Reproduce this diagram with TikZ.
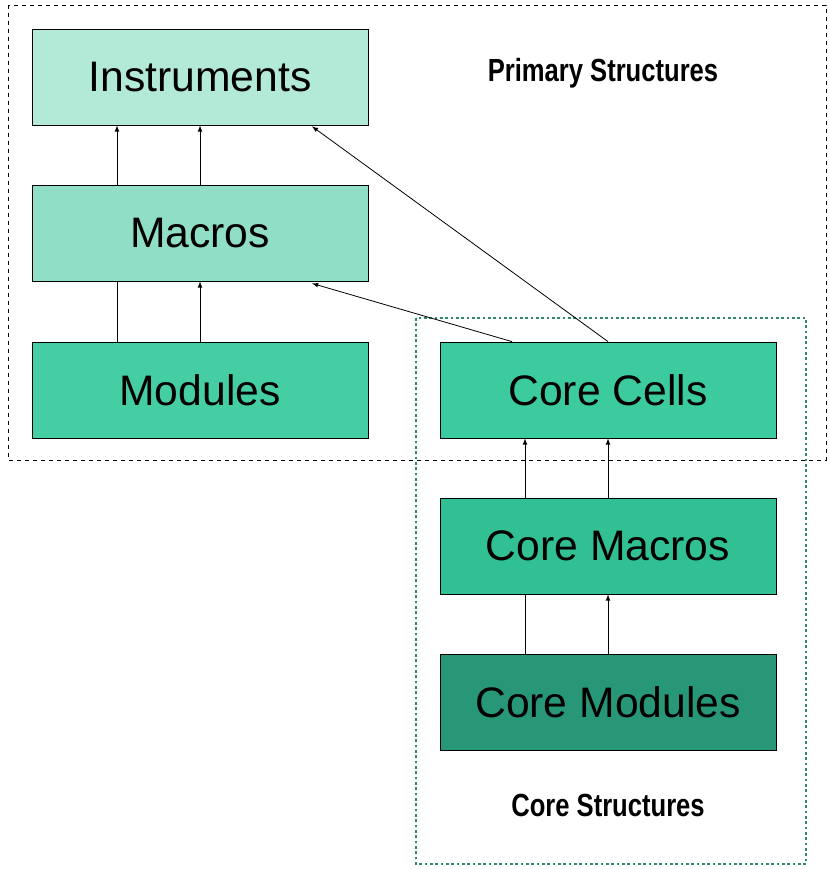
\documentclass[tikz,border=0pt]{standalone}
\usepackage{fontspec}
\setmainfont{Liberation Sans}
\begin{document}
\begin{tikzpicture}[x=0.75pt,y=-0.75pt,
 box/.style={draw=black,line width=0.6pt,minimum width=336*0.75pt,minimum height=96*0.75pt,inner sep=0pt,font=\fontsize{32}{36}\selectfont},
 arr/.style={-latex,line width=0.6pt},
 ln/.style={line width=0.6pt},
 lab/.style={font=\bfseries\fontsize{24}{28}\selectfont}]
\useasboundingbox (0,0) rectangle (829,870);
\definecolor{c1}{HTML}{B3E9D7}
\definecolor{c2}{HTML}{8FDEC5}
\definecolor{c3}{HTML}{45CEA3}
\definecolor{c4}{HTML}{3CCB9E}
\definecolor{c5}{HTML}{31BF94}
\definecolor{c6}{HTML}{279778}
\definecolor{gd}{HTML}{2E8B6A}
\draw[dashed,line width=0.5pt] (8,5) rectangle (826,460);
\draw[gd,dotted,line width=2pt] (416,318) rectangle (806,864);
\node[box,fill=c1] (ins) at (200,77) {Instruments};
\node[box,fill=c2] (mac) at (200,233) {Macros};
\node[box,fill=c3] (mod) at (200,390) {Modules};
\node[box,fill=c4] (cc) at (608,390) {Core Cells};
\node[box,fill=c5] (cm) at (608,546) {Core Macros};
\node[box,fill=c6] (cmod) at (608,702) {Core Modules};
\node[lab] (ps) at (603,73) {\scalebox{0.8}[1]{Primary Structures}};
\node[lab] (cs) at (608,805) {\scalebox{0.8}[1]{Core Structures}};
\draw[arr] ([xshift=-83*0.75pt]mac.north) -- ([xshift=-83*0.75pt]ins.south);
\draw[arr] (mac.north) -- (ins.south);
\draw[ln] ([xshift=-83*0.75pt]mod.north) -- ([xshift=-83*0.75pt]mac.south);
\draw[arr] (mod.north) -- (mac.south);
\draw[arr] ([xshift=-96*0.75pt]cc.north) -- ([xshift=112*0.75pt,yshift=-2*0.75pt]mac.south);
\draw[arr] (cc.north) -- ([xshift=112*0.75pt,yshift=-1*0.75pt]ins.south);
\draw[arr] ([xshift=-83*0.75pt]cm.north) -- ([xshift=-83*0.75pt]cc.south);
\draw[arr] (cm.north) -- (cc.south);
\draw[ln] ([xshift=-83*0.75pt]cmod.north) -- ([xshift=-83*0.75pt]cm.south);
\draw[arr] (cmod.north) -- (cm.south);
\end{tikzpicture}
\end{document}
